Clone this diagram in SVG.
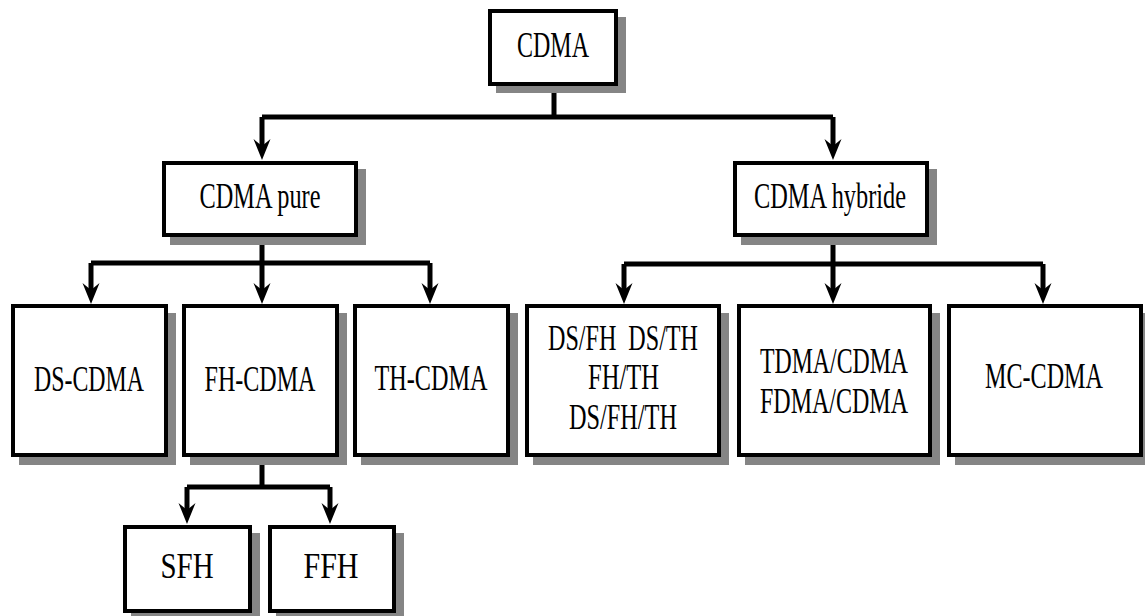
<svg xmlns="http://www.w3.org/2000/svg" width="1145" height="616" viewBox="0 0 1145 616">
  <style>
    .box { fill: #ffffff; stroke: #000000; stroke-width: 4; }
    .shadow { fill: #858585; }
    .lbl { font-family: "Liberation Serif", "Times New Roman", serif; font-size: 36px; fill: #000000; text-anchor: middle; white-space: pre; }
    .wire { fill: none; stroke: #000000; stroke-width: 5; stroke-linejoin: miter; }
    .drop { fill: none; stroke: #000000; stroke-width: 5; marker-end: url(#head); }
  </style>
  <defs>
    <!-- barbed arrowhead; the line stops at the notch, the tip sits 14px further -->
    <marker id="head" markerUnits="userSpaceOnUse" viewBox="-8 -10 23 20" refX="0" refY="0" markerWidth="23" markerHeight="20" orient="auto">
      <path d="M-7,-8.5 L14,0 L-7,8.5 L0,0 Z" fill="#000000"/>
    </marker>
  </defs>
  <rect width="1145" height="616" fill="#ffffff"/>

  <!-- connectors -->
  <g id="connectors">
    <path class="wire" d="M554,86 V117 M262,117 H833"/>
    <path class="drop" d="M262,117 V146"/>
    <path class="drop" d="M833,117 V146"/>

    <path class="wire" d="M262,237 V263 M91,263 H430"/>
    <path class="drop" d="M91,263 V290"/>
    <path class="drop" d="M262,263 V290"/>
    <path class="drop" d="M430,263 V290"/>

    <path class="wire" d="M833,237 V264 M624,264 H1043"/>
    <path class="drop" d="M624,264 V290"/>
    <path class="drop" d="M833,264 V290"/>
    <path class="drop" d="M1043,264 V290"/>

    <path class="wire" d="M262,458 V487 M187,487 H330"/>
    <path class="drop" d="M187,487 V510"/>
    <path class="drop" d="M330,487 V510"/>
  </g>

  <g id="cdma">
    <rect class="shadow" x="496" y="17" width="130" height="76"/>
    <rect class="box" x="490" y="11" width="126" height="73"/>
    <text class="lbl" x="553" y="57" textLength="72" lengthAdjust="spacingAndGlyphs">CDMA</text>
  </g>

  <g id="cdma-pure">
    <rect class="shadow" x="170" y="169" width="196" height="76"/>
    <rect class="box" x="164" y="163" width="192" height="72"/>
    <text class="lbl" x="260" y="208" textLength="121" lengthAdjust="spacingAndGlyphs">CDMA pure</text>
  </g>

  <g id="cdma-hybride">
    <rect class="shadow" x="741" y="169" width="196" height="76"/>
    <rect class="box" x="735" y="163" width="192" height="72"/>
    <text class="lbl" x="830" y="208" textLength="152" lengthAdjust="spacingAndGlyphs">CDMA hybride</text>
  </g>

  <g id="ds-cdma">
    <rect class="shadow" x="19" y="313" width="157" height="152"/>
    <rect class="box" x="13" y="306" width="153" height="149"/>
    <text class="lbl" x="89" y="391" textLength="110" lengthAdjust="spacingAndGlyphs">DS-CDMA</text>
  </g>

  <g id="fh-cdma">
    <rect class="shadow" x="190" y="313" width="157" height="152"/>
    <rect class="box" x="184" y="306" width="153" height="149"/>
    <text class="lbl" x="260" y="391" textLength="111" lengthAdjust="spacingAndGlyphs">FH-CDMA</text>
  </g>

  <g id="th-cdma">
    <rect class="shadow" x="361" y="313" width="157" height="152"/>
    <rect class="box" x="355" y="306" width="153" height="149"/>
    <text class="lbl" x="431" y="390" textLength="113" lengthAdjust="spacingAndGlyphs">TH-CDMA</text>
  </g>

  <g id="ds-fh-th">
    <rect class="shadow" x="533" y="313" width="196" height="152"/>
    <rect class="box" x="527" y="306" width="192" height="149"/>
    <text class="lbl" x="623" y="350" textLength="150" lengthAdjust="spacingAndGlyphs">DS/FH  DS/TH</text>
    <text class="lbl" x="623.5" y="389" textLength="71" lengthAdjust="spacingAndGlyphs">FH/TH</text>
    <text class="lbl" x="623" y="429" textLength="108" lengthAdjust="spacingAndGlyphs">DS/FH/TH</text>
  </g>

  <g id="tdma-fdma">
    <rect class="shadow" x="745" y="313" width="195" height="152"/>
    <rect class="box" x="739" y="306" width="191" height="149"/>
    <text class="lbl" x="834" y="373" textLength="148" lengthAdjust="spacingAndGlyphs">TDMA/CDMA</text>
    <text class="lbl" x="834" y="413" textLength="148" lengthAdjust="spacingAndGlyphs">FDMA/CDMA</text>
  </g>

  <g id="mc-cdma">
    <rect class="shadow" x="955" y="313" width="190" height="152"/>
    <rect class="box" x="949" y="306" width="192" height="149"/>
    <text class="lbl" x="1044" y="388" textLength="118" lengthAdjust="spacingAndGlyphs">MC-CDMA</text>
  </g>

  <g id="sfh">
    <rect class="shadow" x="131" y="533" width="129" height="83"/>
    <rect class="box" x="125" y="527" width="125" height="84"/>
    <text class="lbl" x="187" y="578" textLength="53" lengthAdjust="spacingAndGlyphs">SFH</text>
  </g>

  <g id="ffh">
    <rect class="shadow" x="276" y="533" width="128" height="83"/>
    <rect class="box" x="270" y="527" width="124" height="84"/>
    <text class="lbl" x="331" y="578" textLength="55" lengthAdjust="spacingAndGlyphs">FFH</text>
  </g>
</svg>
